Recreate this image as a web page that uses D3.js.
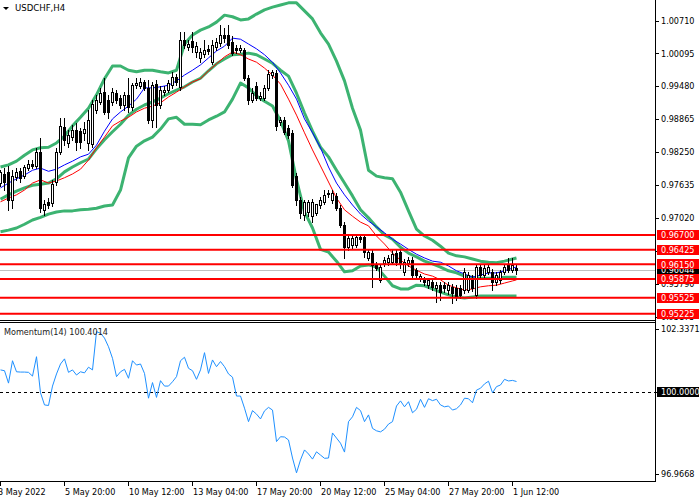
<!DOCTYPE html>
<html lang="en">
<head>
    <meta charset="UTF-8">
    <title>USDCHF,H4</title>
    <script src="https://d3js.org/d3.v7.min.js"></script>
    <style>
        body { margin: 0; background: #fff; }
        svg text { font-family: "DejaVu Sans Condensed", "DejaVu Sans", sans-serif; font-size: 9px; }
    </style>
</head>
<body>
    <script>
        // candles, one per H4 bar, left to right
        var opens = [0.9767,0.9784,0.9788,0.9735,0.9778,0.9790,0.9780,0.9795,0.9803,0.9799,
            0.9825,0.9717,0.9732,0.9730,0.9769,0.9825,0.9872,0.9842,0.9853,0.9866,
            0.9864,0.9861,0.9842,0.9840,0.9904,0.9919,0.9937,0.9922,0.9919,0.9935,
            0.9926,0.9913,0.9932,0.9909,0.9950,0.9948,0.9956,0.9945,0.9885,0.9952,
            0.9913,0.9937,0.9941,0.9950,0.9965,0.9947,1.0035,1.0021,1.0033,1.0012,
            1.0001,1.0008,1.0018,0.9993,1.0021,1.0029,1.0044,1.0044,1.0031,1.0020,
            1.0016,1.0016,0.9963,0.9922,0.9948,0.9926,0.9926,0.9945,0.9969,0.9973,
            0.9881,0.9885,0.9870,0.9861,0.9780,0.9735,0.9707,0.9713,0.9705,0.9711,
            0.9726,0.9732,0.9748,0.9735,0.9743,0.9720,0.9689,0.9647,0.9651,0.9651,
            0.9666,0.9666,0.9627,0.9636,0.9614,0.9586,0.9618,0.9619,0.9619,0.9636,
            0.9638,0.9601,0.9618,0.9623,0.9604,0.9589,0.9586,0.9576,0.9582,0.9571,
            0.9576,0.9576,0.9567,0.9573,0.9571,0.9571,0.9567,0.9567,0.9589,0.9558,
            0.9610,0.9595,0.9601,0.9601,0.9582,0.9586,0.9601,0.9614,0.9604,0.9608];
        var highs = [0.9791,0.9795,0.9799,0.9791,0.9795,0.9795,0.9801,0.9810,0.9810,0.9833,
            0.9851,0.9735,0.9739,0.9773,0.9833,0.9889,0.9889,0.9866,0.9876,0.9879,
            0.9870,0.9881,0.9904,0.9922,0.9932,0.9945,0.9963,0.9932,0.9945,0.9941,
            0.9932,0.9937,0.9963,0.9954,0.9963,0.9963,0.9960,0.9960,0.9956,0.9960,
            0.9948,0.9948,0.9960,0.9975,0.9971,1.0050,1.0050,1.0035,1.0050,1.0031,
            1.0020,1.0035,1.0025,1.0035,1.0038,1.0063,1.0057,1.0063,1.0042,1.0025,
            1.0025,1.0020,0.9969,0.9945,0.9956,0.9937,0.9950,0.9978,0.9978,0.9978,
            0.9891,0.9891,0.9876,0.9866,0.9786,0.9741,0.9735,0.9735,0.9737,0.9728,
            0.9741,0.9754,0.9754,0.9754,0.9748,0.9726,0.9694,0.9668,0.9668,0.9670,
            0.9672,0.9670,0.9642,0.9642,0.9619,0.9616,0.9629,0.9633,0.9642,0.9642,
            0.9642,0.9625,0.9629,0.9629,0.9608,0.9597,0.9591,0.9589,0.9588,0.9582,
            0.9582,0.9582,0.9582,0.9578,0.9576,0.9576,0.9608,0.9601,0.9595,0.9616,
            0.9616,0.9614,0.9616,0.9606,0.9601,0.9604,0.9616,0.9627,0.9627,0.9614];
        var lows = [0.9762,0.9754,0.9717,0.9720,0.9773,0.9769,0.9777,0.9791,0.9795,0.9795,
            0.9713,0.9707,0.9720,0.9724,0.9763,0.9821,0.9838,0.9834,0.9848,0.9829,
            0.9833,0.9848,0.9829,0.9834,0.9898,0.9915,0.9896,0.9889,0.9913,0.9917,
            0.9907,0.9904,0.9900,0.9904,0.9945,0.9945,0.9941,0.9879,0.9872,0.9872,
            0.9907,0.9932,0.9937,0.9945,0.9950,0.9941,1.0020,1.0016,1.0012,1.0003,
            0.9993,1.0003,1.0008,0.9990,1.0016,1.0023,1.0031,1.0020,1.0006,1.0010,
            1.0012,0.9960,0.9915,0.9919,0.9922,0.9922,0.9922,0.9941,0.9963,0.9866,
            0.9876,0.9859,0.9851,0.9760,0.9726,0.9702,0.9698,0.9705,0.9694,0.9707,
            0.9720,0.9728,0.9741,0.9730,0.9717,0.9685,0.9627,0.9642,0.9646,0.9647,
            0.9657,0.9629,0.9623,0.9573,0.9604,0.9582,0.9612,0.9614,0.9616,0.9614,
            0.9608,0.9595,0.9612,0.9589,0.9589,0.9584,0.9576,0.9571,0.9567,0.9545,
            0.9548,0.9563,0.9560,0.9543,0.9548,0.9552,0.9561,0.9563,0.9565,0.9552,
            0.9589,0.9589,0.9597,0.9567,0.9576,0.9580,0.9597,0.9601,0.9601,0.9597];
        var closes = [0.9788,0.9769,0.9735,0.9780,0.9788,0.9777,0.9797,0.9803,0.9799,0.9825,
            0.9720,0.9728,0.9726,0.9765,0.9825,0.9874,0.9848,0.9857,0.9866,0.9844,
            0.9844,0.9868,0.9885,0.9915,0.9922,0.9935,0.9900,0.9900,0.9937,0.9922,
            0.9913,0.9932,0.9909,0.9950,0.9954,0.9956,0.9945,0.9885,0.9950,0.9913,
            0.9941,0.9941,0.9954,0.9965,0.9956,1.0035,1.0025,1.0027,1.0021,1.0023,
            1.0012,1.0016,1.0014,1.0025,1.0031,1.0044,1.0038,1.0025,1.0010,1.0016,
            1.0020,0.9963,0.9922,0.9935,0.9926,0.9930,0.9945,0.9971,0.9975,0.9874,
            0.9885,0.9863,0.9857,0.9763,0.9735,0.9711,0.9732,0.9732,0.9732,0.9728,
            0.9735,0.9745,0.9747,0.9748,0.9720,0.9689,0.9647,0.9664,0.9664,0.9666,
            0.9662,0.9638,0.9638,0.9614,0.9608,0.9610,0.9623,0.9627,0.9634,0.9619,
            0.9618,0.9619,0.9623,0.9595,0.9595,0.9593,0.9582,0.9586,0.9573,0.9576,
            0.9563,0.9571,0.9576,0.9561,0.9554,0.9558,0.9601,0.9595,0.9571,0.9610,
            0.9595,0.9608,0.9610,0.9582,0.9595,0.9601,0.9610,0.9604,0.9614,0.9604];

        // indicator readings, taken every second bar plus the last bar
        var indBars = d3.range(0, 129, 2).concat([129]);
        var bbUpper = [0.9797,0.9801,0.9808,0.9819,0.9829,0.9833,0.9834,0.9842,0.9855,0.9874,
            0.9890,0.9907,0.9932,0.9962,0.9986,0.9986,0.9978,0.9975,0.9978,0.9978,
            0.9975,0.9973,0.9978,1.0027,1.0044,1.0053,1.0059,1.0068,1.0081,1.0078,
            1.0072,1.0074,1.0083,1.0091,1.0096,1.0100,1.0104,1.0104,1.0089,1.0074,
            1.0048,1.0027,0.9995,0.9958,0.9907,0.9866,0.9791,0.9780,0.9777,0.9775,
            0.9750,0.9715,0.9681,0.9668,0.9660,0.9649,0.9636,0.9631,0.9629,0.9625,
            0.9621,0.9619,0.9618,0.9621,0.9625,0.9627];
        var bbMiddle = [0.9737,0.9745,0.9752,0.9758,0.9763,0.9765,0.9767,0.9775,0.9788,0.9797,
            0.9805,0.9812,0.9831,0.9848,0.9863,0.9877,0.9894,0.9905,0.9913,0.9919,
            0.9926,0.9934,0.9941,0.9947,0.9956,0.9963,0.9977,0.9990,0.9999,1.0007,
            1.0008,1.0010,1.0007,0.9999,0.9991,0.9978,0.9967,0.9935,0.9898,0.9864,
            0.9834,0.9816,0.9791,0.9767,0.9743,0.9717,0.9702,0.9685,0.9670,0.9662,
            0.9647,0.9636,0.9629,0.9621,0.9616,0.9610,0.9603,0.9599,0.9593,0.9591,
            0.9589,0.9589,0.9589,0.9591,0.9591,0.9591];
        var bbLower = [0.9676,0.9679,0.9683,0.9690,0.9698,0.9703,0.9709,0.9713,0.9715,0.9715,
            0.9717,0.9718,0.9720,0.9724,0.9726,0.9754,0.9814,0.9836,0.9846,0.9853,
            0.9868,0.9887,0.9890,0.9877,0.9877,0.9876,0.9885,0.9892,0.9900,0.9924,
            0.9954,0.9945,0.9930,0.9920,0.9911,0.9883,0.9846,0.9773,0.9713,0.9683,
            0.9643,0.9638,0.9621,0.9601,0.9603,0.9612,0.9614,0.9610,0.9593,0.9575,
            0.9569,0.9569,0.9576,0.9575,0.9569,0.9563,0.9558,0.9554,0.9552,0.9554,
            0.9556,0.9556,0.9556,0.9556,0.9556,0.9556];
        var maBlue = [0.9758,0.9767,0.9775,0.9782,0.9791,0.9795,0.9789,0.9793,0.9801,0.9808,
            0.9816,0.9821,0.9838,0.9864,0.9887,0.9900,0.9911,0.9924,0.9945,0.9945,
            0.9947,0.9950,0.9958,0.9969,0.9978,0.9988,1.0001,1.0014,1.0023,1.0038,
            1.0036,1.0027,1.0018,1.0007,0.9993,0.9973,0.9950,0.9924,0.9887,0.9861,
            0.9833,0.9797,0.9767,0.9745,0.9726,0.9709,0.9696,0.9685,0.9674,0.9662,
            0.9653,0.9643,0.9634,0.9627,0.9621,0.9619,0.9612,0.9603,0.9597,0.9591,
            0.9595,0.9599,0.9599,0.9603,0.9608,0.9610];
        var maRed = [0.9732,0.9739,0.9745,0.9754,0.9767,0.9773,0.9767,0.9771,0.9777,0.9784,
            0.9793,0.9810,0.9833,0.9853,0.9874,0.9883,0.9890,0.9900,0.9907,0.9911,
            0.9917,0.9928,0.9937,0.9947,0.9956,0.9962,0.9977,0.9990,1.0003,1.0012,
            1.0007,0.9999,0.9993,0.9982,0.9969,0.9952,0.9924,0.9894,0.9861,0.9829,
            0.9799,0.9769,0.9739,0.9717,0.9705,0.9694,0.9687,0.9668,0.9653,0.9636,
            0.9623,0.9612,0.9604,0.9597,0.9593,0.9586,0.9576,0.9571,0.9567,0.9569,
            0.9573,0.9575,0.9576,0.9580,0.9584,0.9586];

        // Momentum(14), one value per bar
        var momentum = [100.83,100.80,100.34,101.17,100.76,100.75,100.75,100.74,100.60,101.32,
            99.98,99.53,99.51,100.23,100.68,101.05,101.24,100.74,100.83,100.64,
            100.76,100.72,100.93,100.83,102.25,102.19,102.01,101.69,101.26,100.58,
            100.76,100.85,100.52,101.17,101.01,101.05,100.70,99.78,100.36,99.81,
            100.43,100.23,100.23,100.39,100.58,101.17,101.30,100.89,100.80,100.48,
            100.83,101.47,100.70,101.20,100.95,101.14,100.95,100.68,100.56,99.86,
            99.86,99.41,98.91,99.32,99.19,99.01,99.31,99.44,99.34,98.17,
            98.35,98.34,98.23,97.56,97.01,97.49,97.86,97.71,97.52,97.79,
            97.67,97.55,97.56,98.49,98.30,98.11,97.78,98.91,99.09,99.44,
            99.32,98.91,99.16,98.66,98.57,98.53,98.63,98.82,98.91,99.49,
            99.68,99.46,99.65,99.24,99.37,99.74,99.44,99.76,99.69,99.74,
            99.53,99.46,99.49,99.34,99.39,99.53,99.78,99.76,99.61,100.08,
            100.15,100.31,100.41,99.98,100.21,100.27,100.48,100.42,100.44,100.40];
        var momLast = 100.4014;

        var priceTicks = [1.00710, 1.00095, 0.99480, 0.98865, 0.98250, 0.97635, 0.97020, 0.96405, 0.95790, 0.95175];
        var levels = [0.96700, 0.96425, 0.96150, 0.95875, 0.95525, 0.95225];
        var lastPrice = 0.96044;
        var momTicks = [102.3371, 96.9668];
        var momLevel = 100.0;
        var timeBars = [0, 16, 32, 48, 64, 80, 96, 112, 128];
        var timeLabels = ["3 May 2022", "5 May 20:00", "10 May 12:00", "13 May 04:00", "17 May 20:00",
            "20 May 12:00", "25 May 04:00", "27 May 20:00", "1 Jun 12:00"];

        var width = 700, height = 500;
        var plotRight = 655;
        var mainBottom = 320;
        var momTop = 323, momBottom = 481;

        var x = d3.scaleLinear().domain([0, 129]).range([0.5, 516.5]);
        var y = d3.scaleLinear().domain([0.95175, 1.00710]).range([316.5, 20.5]);
        var ym = d3.scaleLinear().domain([96.9668, 102.3371]).range([474, 329.3]);

        var svg = d3.select('body').append('svg')
            .attr('width', width)
            .attr('height', height);

        var defs = svg.append('defs');
        defs.append('clipPath').attr('id', 'clipMain')
            .append('rect').attr('x', 0).attr('y', 0).attr('width', plotRight).attr('height', mainBottom);
        defs.append('clipPath').attr('id', 'clipMom')
            .append('rect').attr('x', 0).attr('y', momTop).attr('width', plotRight).attr('height', momBottom - momTop);

        var main = svg.append('g').attr('clip-path', 'url(#clipMain)');

        // last price line
        main.append('line')
            .attr('x1', 0).attr('x2', plotRight)
            .attr('y1', Math.round(y(lastPrice)) + 0.5).attr('y2', Math.round(y(lastPrice)) + 0.5)
            .attr('stroke', '#c0c0c0');

        function draw_line(g, values, color, w) {
            var line = d3.line()
                .x(function (d) { return x(d[0]); })
                .y(function (d) { return y(d[1]); });
            g.append('path')
                .datum(d3.zip(indBars, values))
                .attr('d', line)
                .attr('fill', 'none')
                .attr('stroke', color)
                .attr('stroke-width', w)
                .attr('stroke-linejoin', 'round');
        }

        draw_line(main, bbUpper, '#3cb371', 3);
        draw_line(main, bbMiddle, '#3cb371', 3);
        draw_line(main, bbLower, '#3cb371', 3);
        draw_line(main, maBlue, '#0000ff', 1);
        draw_line(main, maRed, '#ff0000', 1);

        // candles
        var bars = d3.range(opens.length);
        var cg = main.append('g');
        cg.selectAll('line.wick')
            .data(bars)
            .enter()
            .append('line')
            .attr('class', 'wick')
            .attr('x1', function (i) { return Math.floor(x(i)) + 0.5; })
            .attr('x2', function (i) { return Math.floor(x(i)) + 0.5; })
            .attr('y1', function (i) { return Math.round(y(highs[i])); })
            .attr('y2', function (i) { return Math.round(y(lows[i])) + 1; })
            .attr('stroke', '#000');

        cg.selectAll('rect.body')
            .data(bars)
            .enter()
            .append('rect')
            .attr('class', 'body')
            .each(function (i) {
                var xc = Math.floor(x(i));
                var top = Math.round(y(Math.max(opens[i], closes[i])));
                var bot = Math.round(y(Math.min(opens[i], closes[i])));
                var r = d3.select(this);
                if (closes[i] >= opens[i]) {
                    r.attr('x', xc - 0.5).attr('y', top + 0.5)
                        .attr('width', 2).attr('height', Math.max(0, bot - top))
                        .attr('fill', '#fff').attr('stroke', '#000');
                } else {
                    r.attr('x', xc - 1).attr('y', top)
                        .attr('width', 3).attr('height', Math.max(1, bot - top + 1))
                        .attr('fill', '#000');
                }
            });

        // support / resistance levels
        main.selectAll('line.level')
            .data(levels)
            .enter()
            .append('line')
            .attr('class', 'level')
            .attr('x1', 0).attr('x2', plotRight)
            .attr('y1', function (d) { return y(d); })
            .attr('y2', function (d) { return y(d); })
            .attr('stroke', '#ff0000')
            .attr('stroke-width', 2);

        // title
        svg.append('path').attr('d', 'M3,7 L9,7 L6,10 Z').attr('fill', '#000');
        svg.append('text').attr('x', 15).attr('y', 11).style('font-size', '9.5px').text('USDCHF,H4');

        // momentum panel
        var mom = svg.append('g').attr('clip-path', 'url(#clipMom)');
        mom.append('line')
            .attr('x1', 0).attr('x2', plotRight)
            .attr('y1', Math.round(ym(momLevel)) + 0.5).attr('y2', Math.round(ym(momLevel)) + 0.5)
            .attr('stroke', '#000')
            .attr('stroke-dasharray', '3,3');
        mom.append('path')
            .datum(momentum)
            .attr('d', d3.line()
                .x(function (d, i) { return x(i); })
                .y(function (d) { return ym(d); }))
            .attr('fill', 'none')
            .attr('stroke', '#1e90ff')
            .attr('stroke-width', 1);
        svg.append('text').attr('x', 4).attr('y', 335).attr('fill', '#222')
            .text('Momentum(14) ' + momLast.toFixed(4));

        // frames
        var frame = svg.append('g').attr('stroke', '#000').attr('shape-rendering', 'crispEdges');
        frame.append('line').attr('x1', plotRight + 0.5).attr('x2', plotRight + 0.5).attr('y1', 0).attr('y2', momBottom + 1);
        frame.append('line').attr('x1', 0).attr('x2', plotRight).attr('y1', 320.5).attr('y2', 320.5);
        frame.append('line').attr('x1', 0).attr('x2', plotRight).attr('y1', 322.5).attr('y2', 322.5);
        frame.append('line').attr('x1', 0).attr('x2', plotRight + 1).attr('y1', momBottom + 0.5).attr('y2', momBottom + 0.5);

        // price axis
        var pa = svg.append('g');
        pa.selectAll('line')
            .data(priceTicks)
            .enter()
            .append('line')
            .attr('x1', plotRight).attr('x2', plotRight + 4)
            .attr('y1', function (d) { return Math.round(y(d)) + 0.5; })
            .attr('y2', function (d) { return Math.round(y(d)) + 0.5; })
            .attr('stroke', '#000');
        pa.selectAll('text')
            .data(priceTicks)
            .enter()
            .append('text')
            .attr('x', 661)
            .attr('y', function (d) { return y(d); })
            .attr('dy', '0.35em')
            .text(function (d) { return d.toFixed(5); });

        function price_box(g, label, yy, color) {
            g.append('rect')
                .attr('x', 657).attr('y', Math.round(yy) - 5)
                .attr('width', 42).attr('height', 10)
                .attr('fill', color);
            g.append('text')
                .attr('x', 661).attr('y', yy).attr('dy', '0.35em')
                .attr('fill', '#fff')
                .text(label);
        }

        price_box(svg, lastPrice.toFixed(5), y(lastPrice), '#000');
        levels.forEach(function (d) {
            price_box(svg, d.toFixed(5), y(d), '#ff0000');
        });

        // momentum axis
        var ma = svg.append('g');
        ma.selectAll('line')
            .data(momTicks.concat([momLevel]))
            .enter()
            .append('line')
            .attr('x1', plotRight).attr('x2', plotRight + 4)
            .attr('y1', function (d) { return Math.round(ym(d)) + 0.5; })
            .attr('y2', function (d) { return Math.round(ym(d)) + 0.5; })
            .attr('stroke', '#000');
        ma.selectAll('text')
            .data(momTicks)
            .enter()
            .append('text')
            .attr('x', 661)
            .attr('y', function (d) { return ym(d); })
            .attr('dy', '0.35em')
            .text(function (d) { return d.toFixed(4); });
        price_box(svg, momLevel.toFixed(4), ym(momLevel), '#000');

        // time axis
        var ta = svg.append('g');
        ta.selectAll('line')
            .data(timeBars)
            .enter()
            .append('line')
            .attr('x1', function (d) { return Math.floor(x(d)) + 0.5; })
            .attr('x2', function (d) { return Math.floor(x(d)) + 0.5; })
            .attr('y1', momBottom).attr('y2', momBottom + 5)
            .attr('stroke', '#000');
        ta.selectAll('text')
            .data(timeBars)
            .enter()
            .append('text')
            .attr('x', function (d, i) { return i == 0 ? -2 : Math.floor(x(d)) + 1; })
            .attr('y', 495)
            .text(function (d, i) { return timeLabels[i]; });
    </script>
</body>
</html>
